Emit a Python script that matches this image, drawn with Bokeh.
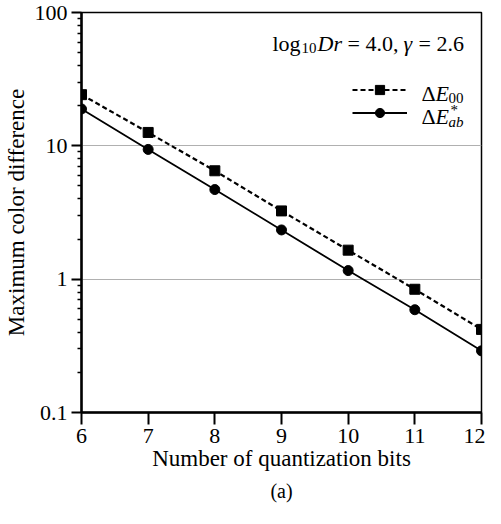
from bokeh.plotting import figure
from bokeh.models import (Range1d, FixedTicker, CustomJSTickFormatter, Label, Legend,
                          LegendItem, Title)
from bokeh.embed import file_html
from bokeh.resources import INLINE

# ---- data ----
bits = [6, 7, 8, 9, 10, 11, 12]
de00 = [24.2, 12.6, 6.5, 3.25, 1.65, 0.84, 0.42]
deab = [18.9, 9.4, 4.7, 2.34, 1.16, 0.59, 0.29]
y_major = [0.1, 1, 10, 100]
x_label = "Number of quantization bits"
y_label = "Maximum color difference"

FONT = "Liberation Serif"

p = figure(width=485, height=508, output_backend="svg", toolbar_location=None,
           y_axis_type="log", x_range=Range1d(6, 12), y_range=Range1d(0.1, 100),
           min_border_left=76, min_border_right=4, min_border_top=12, min_border_bottom=96)
p.background_fill_color = "white"
p.border_fill_color = "white"
p.outline_line_color = "black"
p.outline_line_width = 1.5

# axes
minor = [m * d for d in [0.1, 1, 10] for m in range(2, 10)]
p.yaxis.ticker = FixedTicker(ticks=y_major, minor_ticks=minor)
p.yaxis.formatter = CustomJSTickFormatter(code="return tick >= 1 ? tick.toFixed(0) : tick.toFixed(1);")
p.xaxis.ticker = FixedTicker(ticks=bits)
for ax in (p.xaxis, p.yaxis):
    ax.axis_line_width = 2.5
    ax.axis_line_color = "black"
    ax.major_tick_line_width = 2
    ax.minor_tick_line_width = 1.5
    ax.major_tick_in = 0
    ax.minor_tick_in = 0
    ax.major_label_text_font = FONT
    ax.major_label_text_font_size = "22px"
    ax.major_label_text_color = "black"
    ax.axis_label_text_font = FONT
    ax.axis_label_text_font_size = "23px"
    ax.axis_label_text_font_style = "normal"
    ax.axis_label_text_color = "black"
p.xaxis.major_tick_out = 12
p.xaxis.minor_tick_out = 0
p.xaxis.major_label_standoff = 4
p.xaxis.axis_label = x_label
p.xaxis.axis_label_standoff = 0
p.yaxis.major_tick_out = 10
p.yaxis.minor_tick_out = 4
p.yaxis.major_label_standoff = 4
p.yaxis.axis_label = y_label
p.yaxis.axis_label_standoff = 3

p.xgrid.visible = False
p.ygrid.ticker = FixedTicker(ticks=[1, 10])
p.ygrid.grid_line_color = "#b0b0b0"
p.ygrid.grid_line_width = 1.2

# data
l00 = p.line(bits, de00, line_color="black", line_width=2.2, line_dash="5 3")
s00 = p.scatter(bits, de00, marker="square", size=10, fill_color="black", line_color="black")
lab = p.line(bits, deab, line_color="black", line_width=1.8)
sab = p.scatter(bits, deab, marker="circle", size=10, fill_color="black", line_color="black")

legend = Legend(items=[LegendItem(label=" ", renderers=[l00, s00]),
                       LegendItem(label=" ", renderers=[lab, sab])],
                location=(271, 288), glyph_width=55, glyph_height=23, spacing=0,
                padding=0, margin=0, label_standoff=0, label_width=0,
                label_text_font_size="1px", border_line_alpha=0, background_fill_alpha=0)
p.add_layout(legend)

def lbl(text, xo, yo, size="22px", style="normal"):
    p.add_layout(Label(x=12, y=100, x_offset=xo, y_offset=yo, text=text,
                       text_font=FONT, text_font_size=size, text_font_style=style,
                       text_color="black", text_baseline="alphabetic", text_align="left"))

# annotation: log10 Dr = 4.0, gamma = 2.6
lbl("log", -209, -31)
lbl("10", -180, -35, size="15px")
lbl("Dr", -164, -31, style="italic")
lbl("= 4.0,", -134, -31)
lbl("\u03b3", -78, -31, style="italic")
lbl("= 2.6", -63, -31)

# legend texts
lbl("\u0394", -60, -81)
lbl("E", -46, -81, style="italic")
lbl("00", -33, -85, size="15px")
lbl("\u0394", -60, -104)
lbl("E", -46, -104, style="italic")
lbl("*", -31, -97, size="15px")
lbl("ab", -33, -109, size="15px", style="italic")

p.add_layout(Title(text="(a)", align="center", text_font=FONT, text_font_size="20px",
                   text_font_style="normal", text_color="black", standoff=9, offset=-6),
             "below")

open("out.html", "w").write(file_html(p, INLINE))
